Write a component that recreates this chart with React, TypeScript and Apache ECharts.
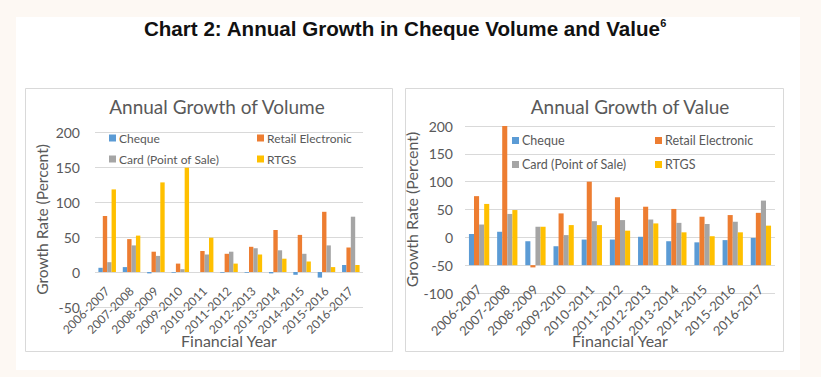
import React, { useEffect, useRef } from 'react';
import * as echarts from 'echarts';

const categories = ['2006-2007', '2007-2008', '2008-2009', '2009-2010', '2010-2011', '2011-2012', '2012-2013', '2013-2014', '2014-2015', '2015-2016', '2016-2017'];
const seriesNames = ['Cheque', 'Retail Electronic', 'Card (Point of Sale)', 'RTGS'];

// Annual growth of volume (percent)
const volCheque = [6, 7, -2, -1, 0, -1, -1, -2, -4, -8, 10];
const volRetail = [80, 47, 29, 12, 30, 26, 36, 60, 53, 86, 35];
const volCard = [14, 38, 23, 4, 25, 29, 34, 31, 26, 38, 79];
const volRTGS = [118, 52, 128, 149, 49, 12, 25, 19, 15, 7, 10];

// Annual growth of value (percent)
const valCheque = [6, 10, -7, -16, -4, -4, 1, -7, -9, -5, -1];
const valRetail = [74, 200, -54, 43, 100, 72, 55, 51, 37, 40, 44];
const valCard = [23, 42, 19, 4, 29, 31, 32, 26, 24, 28, 66];
const valRTGS = [60, 49, 19, 22, 22, 12, 25, 9, 2, 9, 21];

// value axis crossing of the value chart's category axis
const valueAxisCross = -50;

const colors = ['#5b9bd5', '#ed7d31', '#a5a5a5', '#ffc000'];
const grey = '#595959';
const font = 'Lato, "Open Sans", sans-serif';

export default function App() {
  const ref = useRef<HTMLDivElement>(null);
  useEffect(() => {
    const chart = echarts.init(ref.current!, null, { renderer: 'svg' });
    const volData = [volCheque, volRetail, volCard, volRTGS];
    const valData = [valCheque, valRetail, valCard, valRTGS];

    const makeRender = (idx: number) => (params: any, api: any) => {
      const ci = api.value(0);
      const v = api.value(1);
      const top = api.coord([ci, v]);
      const base = api.coord([ci, valueAxisCross]);
      const band = api.size([1, 0])[0];
      const w = band * 0.18;
      const x = top[0] + (idx - 2) * w;
      return {
        type: 'rect',
        shape: { x, y: Math.min(top[1], base[1]), width: w, height: Math.abs(base[1] - top[1]) },
        style: { fill: colors[idx] },
      };
    };

    const legendPos = [
      [109, 132, 12], [257, 132, 12], [109, 153, 12], [257, 153, 12],
      [512, 134, 12.5], [655, 134, 12.5], [512, 158, 12.5], [655, 158, 12.5],
    ];
    const legends = legendPos.map((p, i) => ({
      icon: 'rect',
      itemWidth: 7,
      itemHeight: 7,
      padding: 0,
      itemGap: 0,
      selectedMode: false,
      textStyle: { fontSize: p[2], color: grey, fontFamily: font, padding: [0, 0, 0, -2] },
      data: [seriesNames[i % 4]],
      left: p[0],
      top: p[1],
    }));

    const xAxisCommon = {
      type: 'category',
      data: categories,
      axisTick: { show: false },
      axisLine: { show: false, onZero: false },
    };
    const yAxisCommon = {
      type: 'value',
      interval: 50,
      max: 200,
      axisLine: { show: false },
      axisTick: { show: false },
      splitLine: { lineStyle: { color: '#d9d9d9' } },
      name: 'Growth Rate (Percent)',
      nameLocation: 'middle',
    };

    const option: any = {
      animation: false,
      backgroundColor: '#fdf8f3',
      graphic: [
        { type: 'rect', z: -10, silent: true, shape: { x: 16, y: 17, width: 784, height: 353 }, style: { fill: '#ffffff' } },
        { type: 'rect', z: -9, silent: true, shape: { x: 25.5, y: 88.5, width: 367, height: 263 }, style: { fill: '#ffffff', stroke: '#d9d9d9', lineWidth: 1 } },
        { type: 'rect', z: -9, silent: true, shape: { x: 405.5, y: 88.5, width: 378, height: 263 }, style: { fill: '#ffffff', stroke: '#d9d9d9', lineWidth: 1 } },
        {
          type: 'text', x: 405, y: 28,
          style: {
            text: 'Chart 2: Annual Growth in Cheque Volume and Value{s|6}',
            fill: '#111111', fontSize: 20.6, fontWeight: 'bold', fontFamily: '"Liberation Sans", Arial, sans-serif',
            align: 'center', verticalAlign: 'middle',
            rich: { s: { fontSize: 11, fontWeight: 'bold', fontFamily: '"Liberation Sans", Arial, sans-serif', fill: '#111111', verticalAlign: 'top', lineHeight: 10 } },
          },
        },
        { type: 'text', x: 217, y: 106, style: { text: 'Annual Growth of Volume', fill: grey, fontSize: 19, fontFamily: font, align: 'center', verticalAlign: 'middle' } },
        { type: 'text', x: 630, y: 106, style: { text: 'Annual Growth of Value', fill: grey, fontSize: 19, fontFamily: font, align: 'center', verticalAlign: 'middle' } },
        { type: 'text', x: 229, y: 340, style: { text: 'Financial Year', fill: grey, fontSize: 16, fontFamily: font, align: 'center', verticalAlign: 'middle' } },
        { type: 'text', x: 620, y: 340, style: { text: 'Financial Year', fill: grey, fontSize: 16, fontFamily: font, align: 'center', verticalAlign: 'middle' } },
      ],
      legend: legends,
      grid: [
        { left: 95, top: 132, width: 268, height: 175 },
        { left: 465, top: 126, width: 310, height: 167 },
      ],
      xAxis: [
        { ...xAxisCommon, gridIndex: 0, axisLabel: { rotate: 45, interval: 0, fontSize: 12, color: grey, fontFamily: font, margin: -18 } },
        { ...xAxisCommon, gridIndex: 1, axisLabel: { rotate: 45, interval: 0, fontSize: 13, color: grey, fontFamily: font, margin: -6 } },
      ],
      yAxis: [
        { ...yAxisCommon, gridIndex: 0, min: -50, nameGap: 45, nameTextStyle: { fontSize: 15.5, color: grey, fontFamily: font }, axisLabel: { fontSize: 14, color: grey, fontFamily: font, margin: 15 } },
        { ...yAxisCommon, gridIndex: 1, min: -100, nameGap: 38, nameTextStyle: { fontSize: 16, color: grey, fontFamily: font }, axisLabel: { fontSize: 14, color: grey, fontFamily: font, margin: 12 } },
      ],
      series: [
        ...volData.map((d, i) => ({
          name: seriesNames[i],
          type: 'bar',
          xAxisIndex: 0,
          yAxisIndex: 0,
          barWidth: '18%',
          barGap: '0%',
          itemStyle: { color: colors[i] },
          data: d,
        })),
        ...valData.map((d, i) => ({
          name: seriesNames[i],
          type: 'custom',
          xAxisIndex: 1,
          yAxisIndex: 1,
          itemStyle: { color: colors[i] },
          encode: { x: 0, y: 1 },
          renderItem: makeRender(i),
          data: d.map((v, j) => [j, v]),
        })),
      ],
    };
    chart.setOption(option);
    return () => chart.dispose();
  }, []);
  return <div ref={ref} style={{ position: 'fixed', left: 0, top: 0, width: 821, height: 377 }} />;
}
